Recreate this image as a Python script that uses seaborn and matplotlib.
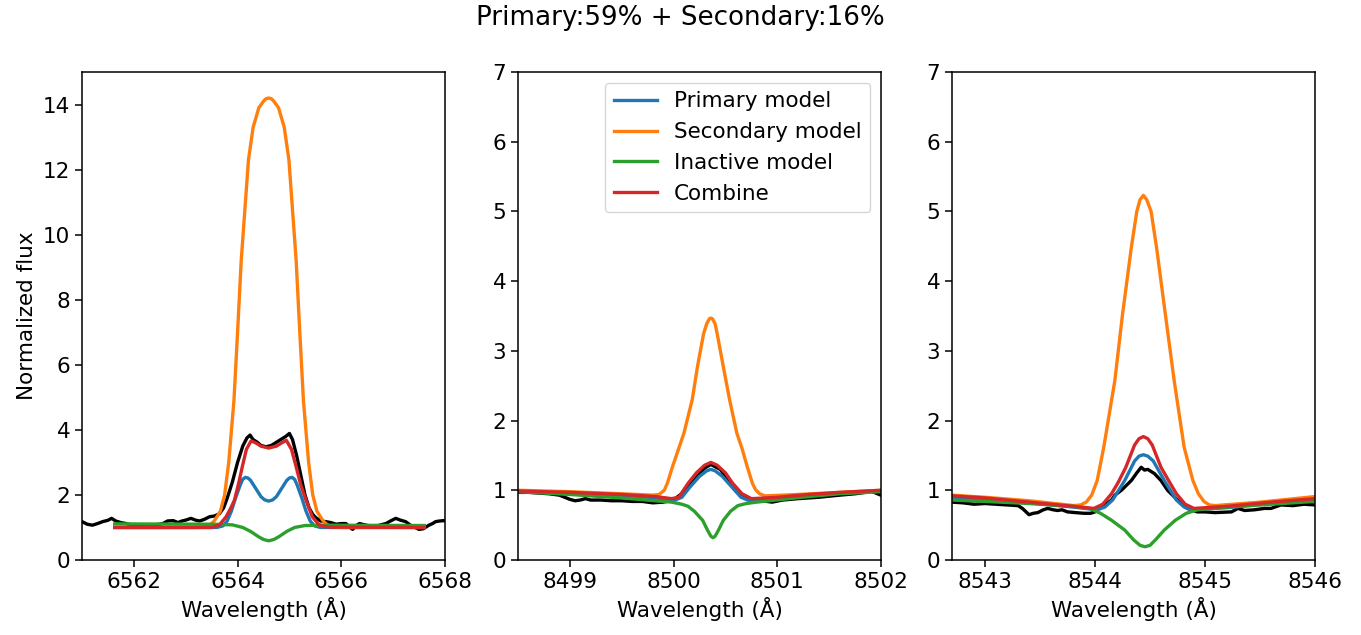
import matplotlib
matplotlib.use("Agg")
import matplotlib.pyplot as plt
import seaborn as sns
import pandas as pd

# ---------------- Panel 1 (H-alpha) ----------------
p1_obs_w = [6561.0, 6561.1, 6561.2, 6561.3, 6561.4, 6561.5, 6561.57, 6561.65, 6561.75, 6561.85, 6561.95,
            6562.05, 6562.1, 6562.2, 6562.3, 6562.4, 6562.5, 6562.56, 6562.65, 6562.76, 6562.85, 6562.93,
            6563.01, 6563.1, 6563.2, 6563.27, 6563.36, 6563.46, 6563.55, 6563.65, 6563.73, 6563.8, 6563.9,
            6564.0, 6564.1, 6564.18, 6564.24, 6564.3, 6564.38, 6564.45, 6564.55, 6564.65, 6564.75, 6564.85,
            6564.93, 6565.0, 6565.06, 6565.14, 6565.22, 6565.3, 6565.38, 6565.45, 6565.51, 6565.6, 6565.7,
            6565.8, 6565.9, 6566.0, 6566.09, 6566.15, 6566.22, 6566.28, 6566.35, 6566.45, 6566.55, 6566.67,
            6566.76, 6566.86, 6566.95, 6567.05, 6567.15, 6567.24, 6567.35, 6567.45, 6567.5, 6567.58, 6567.69,
            6567.76, 6567.82, 6567.9, 6567.98, 6568.0]
p1_obs_f = [1.18, 1.10, 1.07, 1.12, 1.18, 1.22, 1.28, 1.20, 1.15, 1.12, 1.08,
            1.04, 1.02, 1.06, 1.05, 1.08, 1.10, 1.12, 1.20, 1.21, 1.15, 1.20,
            1.23, 1.28, 1.22, 1.20, 1.25, 1.33, 1.35, 1.42, 1.60, 1.90, 2.40,
            3.00, 3.50, 3.75, 3.84, 3.70, 3.62, 3.52, 3.48, 3.52, 3.62, 3.72,
            3.80, 3.89, 3.70, 3.20, 2.60, 2.00, 1.60, 1.40, 1.30, 1.20, 1.18,
            1.15, 1.10, 1.12, 1.12, 1.02, 0.94, 1.05, 1.12, 1.08, 1.05, 1.04,
            1.08, 1.12, 1.20, 1.28, 1.22, 1.18, 1.05, 0.98, 0.94, 0.96, 1.07,
            1.12, 1.18, 1.20, 1.21, 1.20]

p1_pri_w = [6561.63, 6563.6, 6563.72, 6563.8, 6563.88, 6563.96, 6564.05, 6564.1, 6564.15, 6564.2, 6564.25,
            6564.35, 6564.45, 6564.52, 6564.6, 6564.68, 6564.75, 6564.85, 6564.95, 6565.0, 6565.05, 6565.1,
            6565.15, 6565.24, 6565.32, 6565.4, 6565.48, 6565.6, 6567.6]
p1_pri_f = [1.0, 1.0, 1.05, 1.2, 1.5, 1.9, 2.3, 2.48, 2.54, 2.52, 2.45,
            2.2, 1.95, 1.85, 1.81, 1.85, 1.95, 2.2, 2.45, 2.52, 2.54, 2.48,
            2.3, 1.9, 1.5, 1.2, 1.05, 1.0, 1.0]

p1_sec_w = [6561.63, 6563.2, 6563.45, 6563.55, 6563.67, 6563.75, 6563.83, 6563.93, 6564.0, 6564.07, 6564.21,
            6564.3, 6564.41, 6564.5, 6564.55, 6564.6, 6564.65, 6564.7, 6564.79, 6564.9, 6564.99, 6565.13,
            6565.2, 6565.27, 6565.37, 6565.45, 6565.53, 6565.65, 6565.75, 6566.0, 6567.6]
p1_sec_f = [1.0, 1.0, 1.05, 1.2, 1.5, 2.0, 3.0, 4.9, 7.0, 9.2, 12.3,
            13.3, 13.9, 14.1, 14.18, 14.2, 14.18, 14.1, 13.9, 13.3, 12.3, 9.2,
            7.0, 4.9, 3.0, 2.0, 1.5, 1.2, 1.05, 1.0, 1.0]

p1_ina_w = [6561.63, 6563.5, 6563.9, 6564.1, 6564.25, 6564.4, 6564.5, 6564.6, 6564.7, 6564.8, 6564.95,
            6565.1, 6565.3, 6565.6, 6567.6]
p1_ina_f = [1.11, 1.1, 1.08, 1.0, 0.88, 0.72, 0.63, 0.59, 0.63, 0.72, 0.88,
            1.0, 1.06, 1.07, 1.06]

p1_com_w = [6561.63, 6563.5, 6563.65, 6563.78, 6563.87, 6563.94, 6564.02, 6564.09, 6564.17, 6564.26, 6564.35,
            6564.45, 6564.6, 6564.75, 6564.85, 6564.94, 6565.04, 6565.13, 6565.22, 6565.32, 6565.44, 6565.57,
            6565.75, 6567.6]
p1_com_f = [1.0, 1.0, 1.08, 1.33, 1.6, 1.84, 2.35, 2.86, 3.4, 3.66, 3.6,
            3.5, 3.44, 3.5, 3.6, 3.68, 3.4, 2.86, 2.3, 1.84, 1.33, 1.08,
            1.01, 1.0]

# ---------------- Panel 2 (Ca II 8498) ----------------
p2_obs_w = [8498.5, 8498.6, 8498.7, 8498.8, 8498.9, 8499.0, 8499.05, 8499.1, 8499.15, 8499.2, 8499.3,
            8499.4, 8499.5, 8499.6, 8499.7, 8499.8, 8499.9, 8500.0, 8500.1, 8500.2, 8500.3, 8500.36,
            8500.45, 8500.55, 8500.65, 8500.75, 8500.85, 8500.95, 8501.05, 8501.2, 8501.4, 8501.6, 8501.75,
            8501.85, 8501.9, 8501.95, 8502.0]
p2_obs_f = [0.97, 0.97, 0.96, 0.95, 0.93, 0.87, 0.85, 0.86, 0.88, 0.86, 0.86,
            0.85, 0.85, 0.84, 0.84, 0.82, 0.83, 0.86, 0.98, 1.15, 1.32, 1.37,
            1.30, 1.10, 0.95, 0.87, 0.85, 0.83, 0.86, 0.88, 0.90, 0.93, 0.95,
            0.97, 0.99, 0.96, 0.93]

p2_pri_w = [8498.5, 8499.0, 8499.5, 8499.83, 8500.0, 8500.08, 8500.16, 8500.25, 8500.32, 8500.36, 8500.4,
            8500.47, 8500.56, 8500.65, 8500.73, 8500.82, 8501.0, 8501.3, 8501.6, 8502.0]
p2_pri_f = [0.98, 0.96, 0.93, 0.89, 0.85, 0.9, 1.05, 1.2, 1.28, 1.3, 1.28,
            1.2, 1.05, 0.9, 0.85, 0.87, 0.89, 0.93, 0.96, 0.99]

p2_sec_w = [8498.5, 8499.0, 8499.5, 8499.8, 8499.86, 8499.91, 8499.94, 8499.99, 8500.05, 8500.1, 8500.18,
            8500.23, 8500.29, 8500.32, 8500.345, 8500.36, 8500.375, 8500.4, 8500.42, 8500.48, 8500.54, 8500.61,
            8500.66, 8500.71, 8500.76, 8500.79, 8500.83, 8500.88, 8501.2, 8501.6, 8502.0]
p2_sec_f = [1.0, 0.98, 0.95, 0.93, 0.94, 1.0, 1.1, 1.34, 1.6, 1.82, 2.3,
            2.77, 3.25, 3.39, 3.46, 3.47, 3.46, 3.39, 3.25, 2.77, 2.3, 1.82,
            1.6, 1.34, 1.1, 1.01, 0.95, 0.92, 0.94, 0.97, 1.0]

p2_ina_w = [8498.5, 8499.0, 8499.5, 8499.98, 8500.08, 8500.14, 8500.2, 8500.28, 8500.33, 8500.36, 8500.38,
            8500.4, 8500.43, 8500.48, 8500.55, 8500.62, 8500.7, 8500.8, 8501.24, 8501.6, 8502.0]
p2_ina_f = [0.98, 0.94, 0.89, 0.83, 0.8, 0.77, 0.7, 0.57, 0.42, 0.34, 0.32,
            0.34, 0.42, 0.57, 0.7, 0.78, 0.81, 0.83, 0.9, 0.95, 0.98]

p2_com_w = [8498.5, 8499.0, 8499.5, 8499.83, 8499.98, 8500.05, 8500.14, 8500.22, 8500.3, 8500.36, 8500.42,
            8500.5, 8500.57, 8500.66, 8500.75, 8500.82, 8501.0, 8501.3, 8501.6, 8502.0]
p2_com_f = [0.99, 0.97, 0.94, 0.91, 0.88, 0.9, 1.1, 1.25, 1.36, 1.4, 1.36,
            1.25, 1.1, 0.95, 0.88, 0.885, 0.9, 0.94, 0.97, 1.0]

# ---------------- Panel 3 (Ca II 8542) ----------------
p3_obs_w = [8542.7, 8542.8, 8542.9, 8543.0, 8543.1, 8543.2, 8543.3, 8543.34, 8543.4, 8543.44, 8543.48,
            8543.53, 8543.57, 8543.62, 8543.66, 8543.7, 8543.75, 8543.82, 8543.9, 8543.96, 8544.0, 8544.05,
            8544.1, 8544.15, 8544.18, 8544.24, 8544.33, 8544.38, 8544.42, 8544.45, 8544.48, 8544.54, 8544.6,
            8544.66, 8544.75, 8544.84, 8544.93, 8545.0, 8545.09, 8545.24, 8545.3, 8545.36, 8545.45, 8545.54,
            8545.6, 8545.69, 8545.8, 8545.9, 8546.0]
p3_obs_f = [0.83, 0.82, 0.80, 0.81, 0.80, 0.79, 0.78, 0.74, 0.65, 0.67, 0.68,
            0.72, 0.74, 0.72, 0.71, 0.72, 0.69, 0.68, 0.67, 0.67, 0.69, 0.76,
            0.80, 0.86, 0.93, 1.00, 1.14, 1.25, 1.33, 1.29, 1.30, 1.24, 1.14,
            1.00, 0.86, 0.74, 0.69, 0.69, 0.68, 0.69, 0.74, 0.71, 0.72, 0.74,
            0.74, 0.79, 0.78, 0.80, 0.79]

p3_pri_w = [8542.7, 8543.0, 8543.4, 8543.8, 8544.02, 8544.09, 8544.16, 8544.27, 8544.36, 8544.4, 8544.44,
            8544.48, 8544.53, 8544.63, 8544.74, 8544.81, 8544.87, 8545.2, 8545.6, 8546.0]
p3_pri_f = [0.9, 0.87, 0.82, 0.76, 0.72, 0.76, 0.86, 1.14, 1.42, 1.49, 1.51,
            1.49, 1.42, 1.14, 0.86, 0.76, 0.72, 0.75, 0.81, 0.86]

p3_sec_w = [8542.7, 8543.0, 8543.4, 8543.81, 8543.87, 8543.92, 8543.97, 8544.02, 8544.08, 8544.18, 8544.25,
            8544.33, 8544.38, 8544.41, 8544.44, 8544.47, 8544.51, 8544.56, 8544.64, 8544.72, 8544.81, 8544.89,
            8544.94, 8544.99, 8545.04, 8545.09, 8545.5, 8546.0]
p3_sec_f = [0.93, 0.9, 0.85, 0.78, 0.79, 0.83, 0.93, 1.14, 1.62, 2.57, 3.52,
            4.48, 5.0, 5.17, 5.23, 5.17, 5.0, 4.48, 3.52, 2.57, 1.62, 1.14,
            0.95, 0.84, 0.79, 0.78, 0.83, 0.91]

p3_ina_w = [8542.7, 8543.0, 8543.4, 8543.8, 8543.95, 8544.05, 8544.15, 8544.27, 8544.35, 8544.41, 8544.455,
            8544.5, 8544.55, 8544.63, 8544.73, 8544.83, 8544.93, 8545.2, 8545.6, 8546.0]
p3_ina_f = [0.86, 0.84, 0.81, 0.77, 0.74, 0.67, 0.57, 0.43, 0.29, 0.21, 0.19,
            0.21, 0.29, 0.43, 0.57, 0.67, 0.72, 0.76, 0.8, 0.84]

p3_com_w = [8542.7, 8543.0, 8543.4, 8543.8, 8543.99, 8544.07, 8544.15, 8544.21, 8544.28, 8544.36, 8544.4,
            8544.44, 8544.48, 8544.52, 8544.6, 8544.68, 8544.74, 8544.82, 8544.9, 8545.2, 8545.6, 8546.0]
p3_com_f = [0.92, 0.89, 0.83, 0.77, 0.74, 0.8, 0.95, 1.11, 1.33, 1.65, 1.74,
            1.77, 1.74, 1.65, 1.33, 1.11, 0.95, 0.8, 0.74, 0.77, 0.83, 0.88]

TITLE = "Primary:59% + Secondary:16%"
MODEL_NAMES = ["Primary model", "Secondary model", "Inactive model", "Combine"]
MODEL_COLORS = ["#1f77b4", "#ff7f0e", "#2ca02c", "#d62728"]

panels = [
    dict(obs=(p1_obs_w, p1_obs_f),
         models=[(p1_pri_w, p1_pri_f), (p1_sec_w, p1_sec_f), (p1_ina_w, p1_ina_f), (p1_com_w, p1_com_f)],
         xlim=(6561, 6568), ylim=(0, 15), xticks=[6562, 6564, 6566, 6568],
         yticks=[0, 2, 4, 6, 8, 10, 12, 14]),
    dict(obs=(p2_obs_w, p2_obs_f),
         models=[(p2_pri_w, p2_pri_f), (p2_sec_w, p2_sec_f), (p2_ina_w, p2_ina_f), (p2_com_w, p2_com_f)],
         xlim=(8498.5, 8502), ylim=(0, 7), xticks=[8499, 8500, 8501, 8502],
         yticks=[0, 1, 2, 3, 4, 5, 6, 7]),
    dict(obs=(p3_obs_w, p3_obs_f),
         models=[(p3_pri_w, p3_pri_f), (p3_sec_w, p3_sec_f), (p3_ina_w, p3_ina_f), (p3_com_w, p3_com_f)],
         xlim=(8542.7, 8546), ylim=(0, 7), xticks=[8543, 8544, 8545, 8546],
         yticks=[0, 1, 2, 3, 4, 5, 6, 7]),
]

fig = plt.figure(figsize=(13.61, 6.35), dpi=100)
lefts = [82 / 1361, 518 / 1361, 952 / 1361]
width = 363 / 1361
bottom = 1 - 560 / 635
height = (560 - 72) / 635

FS = 15.5
for i, p in enumerate(panels):
    ax = fig.add_axes([lefts[i], bottom, width, height])
    ow, of = p["obs"]
    sns.lineplot(x=ow, y=of, ax=ax, color="black", lw=2.4, sort=False, estimator=None)
    for k in range(4):
        w, f = p["models"][k]
        sns.lineplot(x=w, y=f, ax=ax, color=MODEL_COLORS[k], lw=2.4, sort=False, estimator=None,
                     label=MODEL_NAMES[k] if i == 1 else None)
    ax.set_xlim(*p["xlim"])
    ax.set_ylim(*p["ylim"])
    ax.set_xticks(p["xticks"])
    ax.set_yticks(p["yticks"])
    ax.set_xticklabels([str(t) for t in p["xticks"]])
    ax.tick_params(labelsize=FS, length=5, width=1.1)
    for s in ax.spines.values():
        s.set_linewidth(1.1)
    ax.set_xlabel("Wavelength (Å)", fontsize=FS)
    if i == 0:
        ax.set_ylabel("Normalized flux", fontsize=FS)
    else:
        ax.set_ylabel("")
    if i == 1:
        ax.legend(loc="upper right", fontsize=FS)
    else:
        lg = ax.get_legend()
        if lg is not None:
            lg.remove()

fig.suptitle(TITLE, fontsize=18.8, y=1 - 18 / 635, va="center")
fig.savefig("out.png", dpi=100)
